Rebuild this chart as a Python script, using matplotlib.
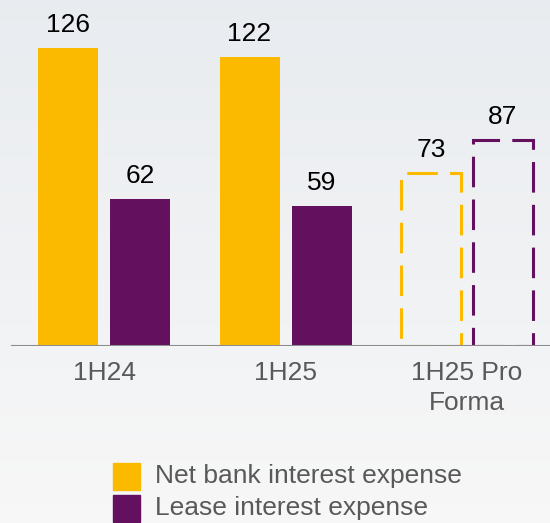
import numpy as np
import matplotlib.pyplot as plt
from matplotlib.patches import Rectangle

plt.rcParams['font.family'] = ['Liberation Sans', 'DejaVu Sans']

# Дані
categories = ['1H24', '1H25', '1H25 Pro\nForma']
net_bank = [126, 122, 73]
lease = [62, 59, 87]
dashed = [False, False, True]
series_names = ['Net bank interest expense', 'Lease interest expense']

yellow = '#FBBA00'
purple = '#63105F'
grey_text = '#595959'

W, H = 550, 523
fig = plt.figure(figsize=(W / 100, H / 100), dpi=100)

# Фон з градієнтом
bg = fig.add_axes([0, 0, 1, 1], zorder=-10)
grad = np.linspace(0, 1, 256).reshape(-1, 1)
top = np.array([0.912, 0.925, 0.940])
bottom = np.array([0.970, 0.970, 0.970])
img = top + (bottom - top) * grad[..., None]
bg.imshow(img, aspect='auto', extent=[0, 1, 0, 1])
bg.axis('off')

# Основні осі: базова лінія на y=346 px, 2.365 px на одиницю
base_px = 346
ppu = 2.365
ymax = 140
ax = fig.add_axes([0, (H - base_px) / H, 1, ymax * ppu / H])
ax.patch.set_alpha(0)

spacing = 181.5
x0_px = 104
x = np.arange(len(categories))
bw = 60 / spacing
off = 36 / spacing

for i in x:
    for val, col, sign in [(net_bank[i], yellow, -1), (lease[i], purple, 1)]:
        if dashed[i]:
            ax.bar(i + sign * off, val, bw, facecolor='none', edgecolor=col,
                   linewidth=2.2, linestyle=(0, (10, 4)))
        else:
            ax.bar(i + sign * off, val, bw, color=col)
        ax.annotate(str(val), (i + sign * off, val), xytext=(0, 11.5),
                    textcoords='offset points', ha='center', va='baseline',
                    fontsize=19, color='black')

ax.set_xlim(-x0_px / spacing, 2 + (W - 467) / spacing)
ax.set_ylim(0, ymax)
ax.axhline(0, xmin=12 / W, xmax=1, color='#8C8C8C', linewidth=1.5, zorder=5)

ax.set_xticks(x)
ax.set_xticklabels(categories, fontsize=19, color=grey_text, linespacing=1.3)
ax.tick_params(axis='x', length=0, pad=11)
ax.set_yticks([])
for s in ax.spines.values():
    s.set_visible(False)

# Легенда
for k, (name, col) in enumerate(zip(series_names, [yellow, purple])):
    ytop = 463 + k * 32
    fig.add_artist(Rectangle((113 / W, 1 - (ytop + 27) / H), 27 / W, 27 / H,
                             transform=fig.transFigure, color=col))
    fig.text(155 / W, 1 - (ytop + 13.5) / H, name, fontsize=19,
             color=grey_text, va='center', ha='left')

fig.savefig('out.png', dpi=100)
